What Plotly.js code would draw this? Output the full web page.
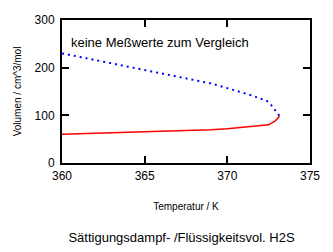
<!DOCTYPE html>
<html>
<head>
<meta charset="utf-8">
<script src="https://cdn.plot.ly/plotly-3.0.1.min.js"></script>
<style>html,body{margin:0;padding:0;background:#fff;}#chart{width:333px;height:252px;}</style>
</head>
<body>
<div id="chart"></div>
<script>
// Saturated vapour volume (blue, dotted)
const vapT = [360, 361, 362, 363, 364, 365, 366, 367, 368, 369, 370, 370.5, 371, 371.5, 372, 372.4, 372.6, 372.8, 373, 373.15];
const vapV = [230, 223, 216, 209.5, 202.5, 195.5, 188.5, 181, 174, 167, 157, 152, 147, 141.5, 135, 130, 124, 115, 106, 99];
// Saturated liquid volume (red, solid)
const liqT = [360, 362, 364, 366, 368, 369, 370, 371, 371.5, 372, 372.5, 372.7, 372.9, 373.05, 373.15];
const liqV = [60.5, 62.5, 64, 66, 68.5, 70, 72, 75, 77, 78.5, 80, 84, 88.5, 94, 99];
const xTicks = [360, 365, 370, 375];
const yTicks = [0, 100, 200, 300];

const font = 'Arial, "Liberation Sans", sans-serif';
const data = [
  {x: vapT, y: vapV, type: 'scatter', mode: 'lines', line: {color: '#0000ff', width: 2, dash: '2px,4px'}, hoverinfo: 'skip'},
  {x: liqT, y: liqV, type: 'scatter', mode: 'lines', line: {color: '#ff0000', width: 1.5}, hoverinfo: 'skip'}
];
const axisCommon = {
  showgrid: false, zeroline: false, showline: true, linecolor: '#000', linewidth: 2,
  mirror: 'allticks', ticks: 'inside', ticklen: 7, tickwidth: 2, tickcolor: '#000',
  tickfont: {family: font, size: 12, color: '#000'}, fixedrange: true
};
const layout = {
  width: 333, height: 252,
  margin: {l: 62, r: 23, t: 20, b: 89},
  paper_bgcolor: '#fff', plot_bgcolor: '#fff',
  showlegend: false,
  title: {text: 'Sättigungsdampf- /Flüssigkeitsvol. H2S', font: {family: font, size: 13, color: '#000'},
          x: 0.545, xanchor: 'center', y: 1 - 237/252, yanchor: 'middle', yref: 'container'},
  xaxis: Object.assign({}, axisCommon, {range: [360, 375], tickvals: xTicks, ticktext: xTicks.map(String),
          ticklabelstandoff: 1,
          title: {text: 'Temperatur / K', font: {family: font, size: 10, color: '#000'}, standoff: 21}}),
  yaxis: Object.assign({}, axisCommon, {range: [0, 300], tickvals: yTicks, ticktext: yTicks.map(String),
          ticklabelstandoff: 3,
          title: {text: 'Volumen / cm^3/mol', font: {family: font, size: 10, color: '#000'}, standoff: 11}}),
  annotations: [{xref: 'paper', yref: 'paper', x: 0.03, y: 0.845, xanchor: 'left', yanchor: 'middle',
                 text: 'keine Meßwerte zum Vergleich', showarrow: false, font: {family: font, size: 13, color: '#000'}}]
};
Plotly.newPlot('chart', data, layout, {staticPlot: true, displayModeBar: false});
</script>
</body>
</html>
